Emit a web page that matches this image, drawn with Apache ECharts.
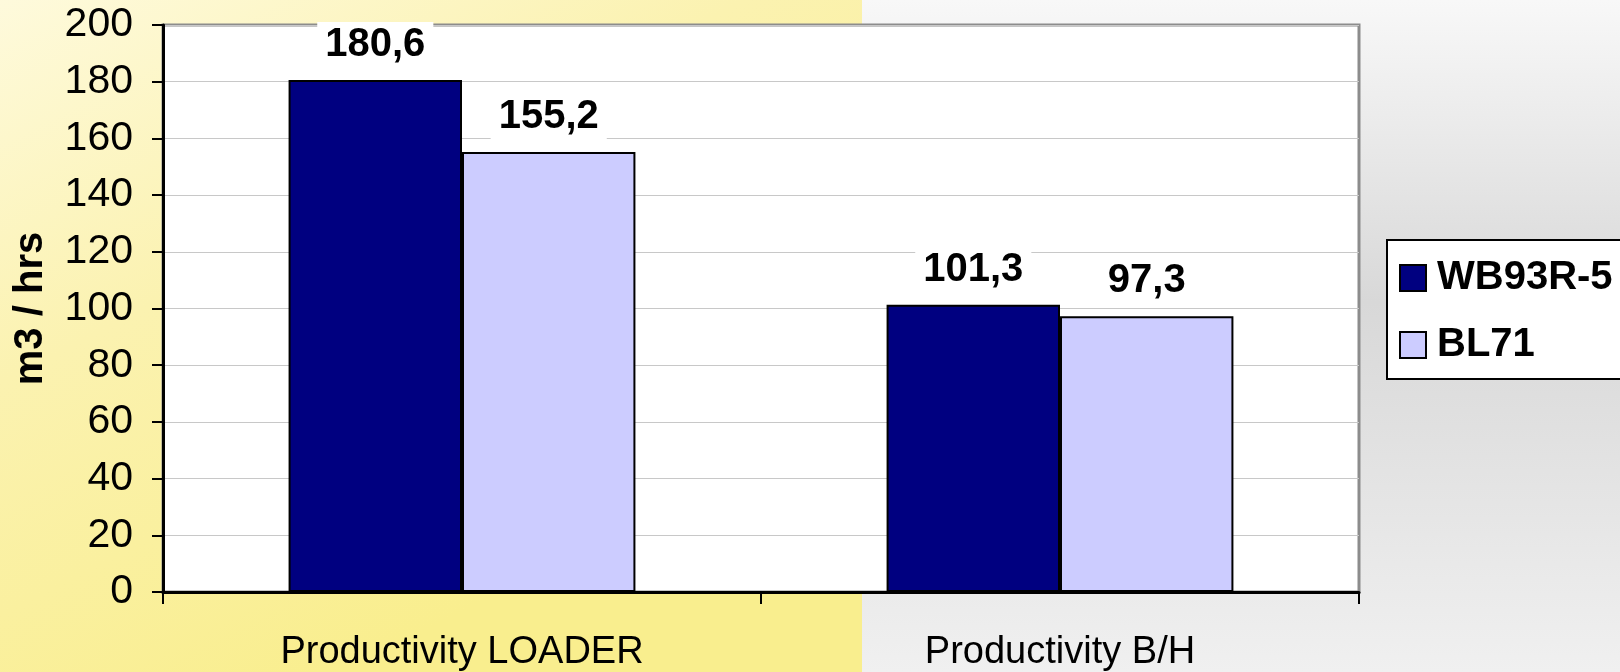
<!DOCTYPE html>
<html>
<head>
<meta charset="utf-8">
<script src="https://cdn.jsdelivr.net/npm/echarts@6/dist/echarts.min.js"></script>
<style>
  html, body { margin: 0; padding: 0; }
  #chart { width: 1620px; height: 672px; }
</style>
</head>
<body>
<div id="chart"></div>
<script>
// data
const categories = ['Productivity LOADER', 'Productivity B/H'];
const seriesNames = ['WB93R-5', 'BL71'];
const wb93Values = [180.6, 101.3];
const bl71Values = [155.2, 97.3];
const yTicks = [0, 200, 20]; // min, max, interval

const fmt = (p) => String(p.value).replace('.', ',');

const labelStyle = {
  show: true,
  position: 'top',
  distance: 13,
  formatter: fmt,
  color: '#000',
  fontFamily: 'Liberation Sans, Arial, sans-serif',
  fontWeight: 'bold',
  fontSize: 40,
  backgroundColor: '#fff',
  padding: [3, 8, 2, 8]
};

const chart = echarts.init(document.getElementById('chart'));

const options = {
  animation: false,
  backgroundColor: '#f2f2f2',
  graphic: [
    {
      type: 'rect', z: -10, silent: true,
      shape: { x: 0, y: 0, width: 862, height: 672 },
      style: {
        fill: new echarts.graphic.LinearGradient(0, 0, 0.4, 1, [
          { offset: 0, color: '#fefadc' },
          { offset: 0.45, color: '#fbf2b0' },
          { offset: 1, color: '#f9ee8e' }
        ])
      }
    },
    {
      type: 'rect', z: -10, silent: true,
      shape: { x: 862, y: 0, width: 758, height: 672 },
      style: {
        fill: new echarts.graphic.LinearGradient(0, 0, 0, 1, [
          { offset: 0, color: '#f8f8f8' },
          { offset: 0.45, color: '#d8d8d8' },
          { offset: 1, color: '#f0f0f0' }
        ])
      }
    }
  ],
  grid: {
    left: 163,
    right: 261,
    top: 25,
    bottom: 78,
    show: true,
    backgroundColor: '#fff',
    borderColor: '#8c8c8c',
    borderWidth: 3
  },
  legend: {
    orient: 'vertical',
    left: 1387,
    top: 240,
    data: seriesNames,
    icon: 'rect',
    itemWidth: 26,
    itemHeight: 26,
    itemGap: 27,
    padding: [18, 40, 14, 12],
    backgroundColor: '#fff',
    borderColor: '#000',
    borderWidth: 2,
    textStyle: {
      color: '#000',
      fontFamily: 'Liberation Sans, Arial, sans-serif',
      fontWeight: 'bold',
      fontSize: 40,
      padding: [0, 0, 0, 6]
    }
  },
  xAxis: {
    type: 'category',
    data: categories,
    axisLine: { lineStyle: { color: '#000', width: 3 } },
    axisTick: { show: true, length: 12, lineStyle: { color: '#000', width: 2 } },
    axisLabel: {
      margin: 42,
      color: '#000',
      fontFamily: 'Liberation Sans, Arial, sans-serif',
      fontSize: 38
    },
    splitLine: { show: false }
  },
  yAxis: {
    type: 'value',
    min: yTicks[0],
    max: yTicks[1],
    interval: yTicks[2],
    name: 'm3 / hrs',
    nameLocation: 'middle',
    nameRotate: 90,
    nameGap: 112,
    nameTextStyle: {
      color: '#000',
      fontFamily: 'Liberation Sans, Arial, sans-serif',
      fontWeight: 'bold',
      fontSize: 40
    },
    axisLine: { show: true, lineStyle: { color: '#000', width: 3 } },
    axisTick: { show: true, length: 11, lineStyle: { color: '#000', width: 2 } },
    axisLabel: {
      margin: 30,
      color: '#000',
      fontFamily: 'Liberation Sans, Arial, sans-serif',
      fontSize: 41
    },
    splitLine: { show: true, lineStyle: { color: '#c8c8c8', width: 1 } }
  },
  series: [
    {
      name: seriesNames[0],
      type: 'bar',
      data: wb93Values,
      barGap: '0%',
      barCategoryGap: '42%',
      itemStyle: { color: '#000080', borderColor: '#000', borderWidth: 2 },
      label: labelStyle
    },
    {
      name: seriesNames[1],
      type: 'bar',
      data: bl71Values,
      itemStyle: { color: '#ccccff', borderColor: '#000', borderWidth: 2 },
      label: labelStyle
    }
  ]
};

chart.setOption(options);
window.addEventListener('resize', () => chart.resize());
</script>
</body>
</html>
